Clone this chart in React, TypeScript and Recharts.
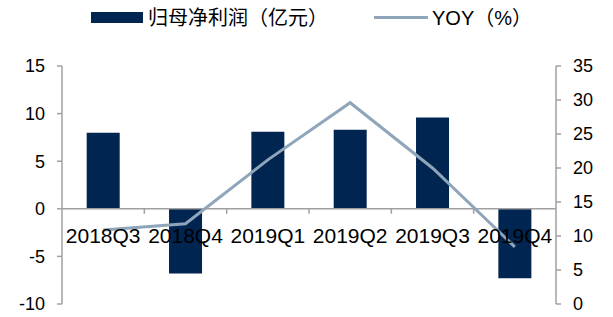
import { ComposedChart, Bar, Line, XAxis, YAxis, ReferenceLine } from 'recharts';

const quarters = ['2018Q3', '2018Q4', '2019Q1', '2019Q2', '2019Q3', '2019Q4'];
const profit = [8.0, -6.8, 8.1, 8.3, 9.6, -7.3];
const yoy = [10.9, 11.8, 21.2, 29.6, 20.0, 8.4];
const leftTicks = [-10, -5, 0, 5, 10, 15];
const rightTicks = [0, 5, 10, 15, 20, 25, 30, 35];

const barName = '归母净利润（亿元）';
const lineName = 'YOY（%）';

const W = 613;
const H = 317;
const TOP = 66;
const BOTTOM = 13;
const LEFT_W = 62;
const RIGHT_W = 57;

const barColor = '#002550';
const lineColor = '#8fa5b9';
const axisColor = '#a0a0a0';
const font = '"Liberation Sans", Arial, "Noto Sans CJK SC", sans-serif';

const data = quarters.map((q, i) => ({ name: q, profit: profit[i], yoy: yoy[i] }));

// y of the zero line, from the left axis domain
const plotH = H - TOP - BOTTOM;
const zeroY = TOP + plotH * (leftTicks[leftTicks.length - 1] / (leftTicks[leftTicks.length - 1] - leftTicks[0]));
const band = (W - LEFT_W - RIGHT_W) / quarters.length;

function CatTick(props: any) {
  const { x, payload, index } = props;
  return (
    <g>
      {index > 0 && (
        <line x1={x - band / 2} x2={x - band / 2} y1={zeroY} y2={zeroY + 5} stroke={axisColor} strokeWidth={1.5} />
      )}
      <text x={x} y={zeroY + 34} textAnchor="middle" fontSize={21} fontFamily={font} fill="#000">
        {payload.value}
      </text>
    </g>
  );
}

export default function App() {
  return (
    <div style={{ position: 'absolute', left: 0, top: 0, width: W, height: H, background: '#fff' }}>
      <div style={{ position: 'absolute', left: 0, top: 0, width: W, height: 36, fontFamily: font, fontSize: 20, color: '#000' }}>
        <div style={{ position: 'absolute', left: 91, top: 12, width: 52, height: 11, background: barColor }} />
        <div style={{ position: 'absolute', left: 148, top: 4, whiteSpace: 'nowrap', lineHeight: '28px' }}>{barName}</div>
        <div style={{ position: 'absolute', left: 374, top: 16, width: 54, height: 3, background: lineColor }} />
        <div style={{ position: 'absolute', left: 432, top: 4, whiteSpace: 'nowrap', lineHeight: '28px' }}>{lineName}</div>
      </div>
      <ComposedChart
        width={W}
        height={H}
        data={data}
        margin={{ top: TOP, right: 0, bottom: 0, left: 0 }}
        barCategoryGap="30%"
      >
        <XAxis dataKey="name" height={BOTTOM} axisLine={false} tickLine={false} tick={<CatTick />} interval={0} />
        <YAxis
          yAxisId="left"
          width={LEFT_W}
          domain={[-10, 15]}
          ticks={leftTicks}
          interval={0}
          stroke={axisColor}
          strokeWidth={1.5}
          tickSize={5}
          tickMargin={12}
          tick={{ fill: '#000', fontSize: 18, fontFamily: font }}
        />
        <YAxis
          yAxisId="right"
          orientation="right"
          width={RIGHT_W}
          domain={[0, 35]}
          ticks={rightTicks}
          interval={0}
          stroke={axisColor}
          strokeWidth={1.5}
          tickSize={5}
          tickMargin={12}
          tick={{ fill: '#000', fontSize: 18, fontFamily: font }}
        />
        <Bar yAxisId="left" dataKey="profit" name={barName} fill={barColor} isAnimationActive={false} />
        <ReferenceLine yAxisId="left" y={0} stroke={axisColor} strokeWidth={1.5} />
        <Line
          yAxisId="right"
          dataKey="yoy"
          name={lineName}
          type="linear"
          stroke={lineColor}
          strokeWidth={3}
          dot={false}
          isAnimationActive={false}
        />
      </ComposedChart>
    </div>
  );
}
